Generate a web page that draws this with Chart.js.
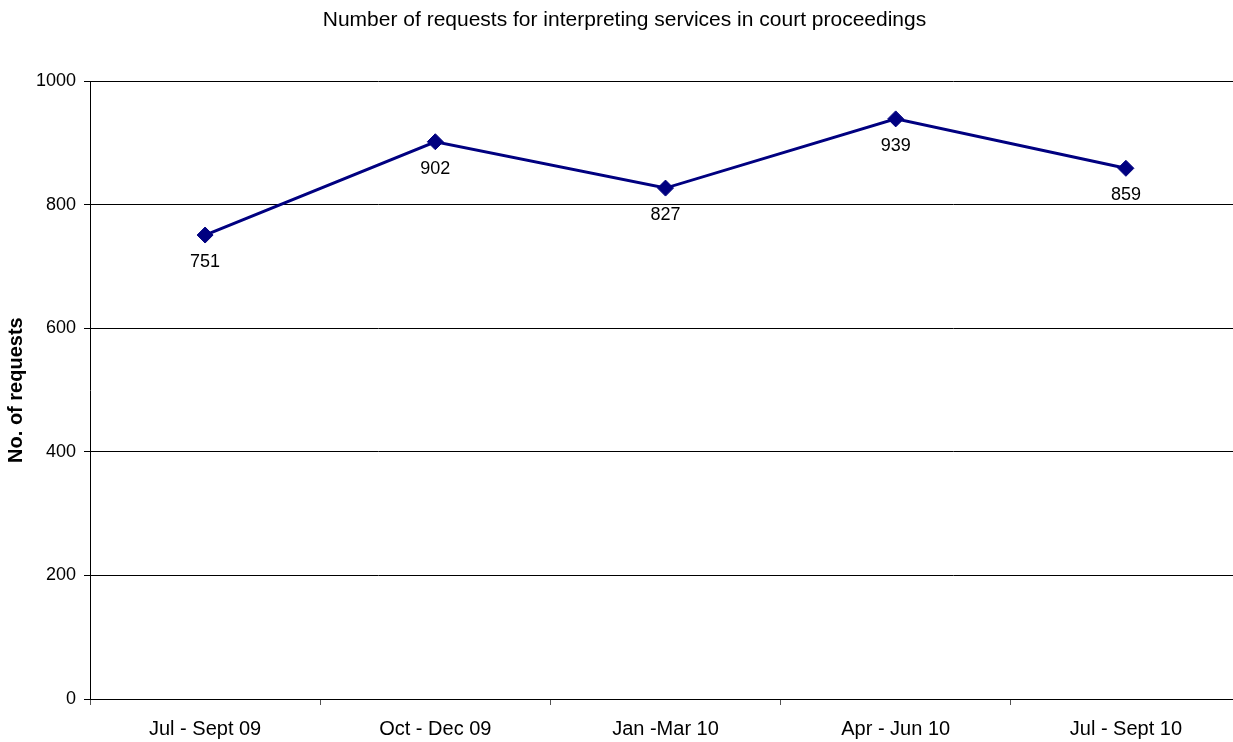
<!DOCTYPE html>
<html lang="en">
<head>
  <meta charset="UTF-8" />
  <title>Interpreting services requests</title>
  <script src="https://cdn.jsdelivr.net/npm/chart.js"></script>
  <style>
    html, body { margin: 0; padding: 0; background: #fff; overflow: hidden; }
    #wrap { width: 1250px; height: 742px; }
  </style>
</head>
<body>
  <div id="wrap"><canvas id="grafico" width="1250" height="742"></canvas></div>

  <script>
    const trimestres = ['Jul - Sept 09', 'Oct - Dec 09', 'Jan -Mar 10', 'Apr - Jun 10', 'Jul - Sept 10'];
    const solicitudes = [751, 902, 827, 939, 859];
    const ticksY = [0, 200, 400, 600, 800, 1000];

    const fuente = '"Liberation Sans", Arial, sans-serif';

    // etiquetas de valor debajo de cada punto
    const etiquetas = {
      id: 'etiquetas',
      afterDatasetsDraw(chart) {
        const ctx = chart.ctx;
        const meta = chart.getDatasetMeta(0);
        ctx.save();
        ctx.font = '18px ' + fuente;
        ctx.fillStyle = '#000';
        ctx.textAlign = 'center';
        ctx.textBaseline = 'middle';
        meta.data.forEach((p, i) => {
          ctx.fillText(String(solicitudes[i]), p.x, p.y + 27);
        });
        ctx.restore();
      }
    };

    new Chart(document.getElementById('grafico'), {
      type: 'line',
      data: {
        labels: trimestres,
        datasets: [{
          data: solicitudes,
          borderColor: '#000080',
          backgroundColor: '#000080',
          borderWidth: 3,
          pointStyle: 'rectRot',
          pointRadius: 8,
          pointBorderWidth: 1,
          tension: 0
        }]
      },
      options: {
        responsive: false,
        animation: false,
        layout: { padding: { left: 0, right: 1, top: 0, bottom: 0 } },
        plugins: {
          legend: { display: false },
          tooltip: { enabled: false },
          title: {
            display: true,
            text: 'Number of requests for interpreting services in court proceedings',
            color: '#000',
            font: { family: fuente, size: 21, weight: 'normal' },
            padding: { top: 8, bottom: 48 }
          }
        },
        scales: {
          x: {
            offset: true,
            grid: { offset: true, drawOnChartArea: false, drawTicks: true, tickLength: 6, color: '#555' },
            border: { color: '#000', width: 1 },
            ticks: { color: '#000', padding: 12, maxRotation: 0, font: { family: fuente, size: 20 } },
            afterFit(s) { s.height = 43; }
          },
          y: {
            min: 0,
            max: 1000,
            afterBuildTicks(s) { s.ticks = ticksY.map(v => ({ value: v })); },
            grid: { color: '#000', lineWidth: 1, tickLength: 6 },
            border: { color: '#000', width: 1 },
            ticks: { color: '#000', padding: 8, font: { family: fuente, size: 18 }, callback: v => String(v) },
            title: {
              display: true,
              text: 'No. of requests',
              color: '#000',
              font: { family: fuente, size: 20, weight: 'bold' },
              padding: { top: 4, bottom: 0 }
            },
            afterFit(s) { s.width = 90; }
          }
        }
      },
      plugins: [etiquetas]
    });
  </script>
</body>
</html>
